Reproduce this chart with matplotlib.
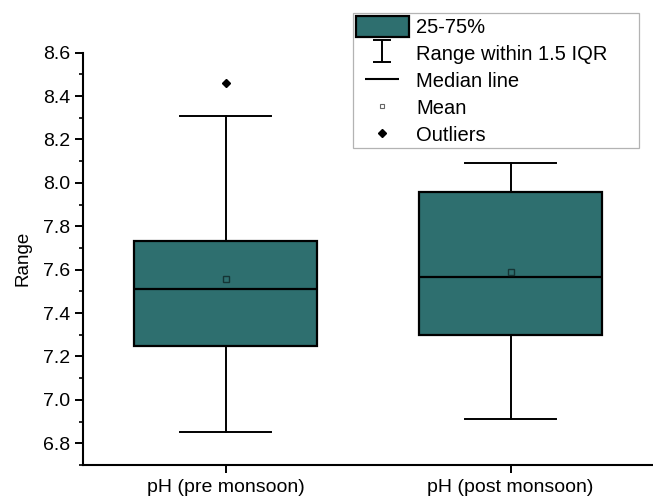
import matplotlib
matplotlib.use("Agg")
import matplotlib.pyplot as plt
from matplotlib.lines import Line2D
from matplotlib.patches import Patch
from matplotlib.path import Path
from matplotlib.ticker import MultipleLocator, FormatStrFormatter

plt.rcParams['font.family'] = ['Liberation Sans', 'DejaVu Sans']

# box statistics
groups = ['pH (pre monsoon)', 'pH (post monsoon)']
q1 = [7.25, 7.30]
medians = [7.51, 7.565]
q3 = [7.73, 7.96]
whis_low = [6.85, 6.91]
whis_high = [8.31, 8.09]
means = [7.555, 7.59]
outliers = [[8.46], []]

legend_labels = ['25-75%', 'Range within 1.5 IQR', 'Median line', 'Mean', 'Outliers']

teal = '#2e6f6f'

stats = []
for i, g in enumerate(groups):
    stats.append(dict(label=g, q1=q1[i], med=medians[i], q3=q3[i],
                      whislo=whis_low[i], whishi=whis_high[i],
                      mean=means[i], fliers=outliers[i]))

fig = plt.figure(figsize=(6.53, 4.97), dpi=100)
ax = fig.add_axes([83.3 / 653, 1 - 465 / 497, 1 - 83.3 / 653, (465 - 52.7) / 497])

ax.bxp(stats, positions=[1, 2], widths=0.643, capwidths=0.32,
       showmeans=True, patch_artist=True,
       boxprops=dict(facecolor=teal, edgecolor='black', linewidth=1.6),
       medianprops=dict(color='black', linewidth=1.6),
       whiskerprops=dict(color='black', linewidth=1.4),
       capprops=dict(color='black', linewidth=1.4),
       meanprops=dict(marker='s', markersize=4, markerfacecolor='none',
                      markeredgecolor='#153535', markeredgewidth=1.0),
       flierprops=dict(marker='D', markersize=4.5, markerfacecolor='black',
                       markeredgecolor='black'))

ax.set_xlim(0.5, 2.5)
ax.set_ylim(6.7, 8.6)
ax.yaxis.set_major_locator(MultipleLocator(0.2))
ax.yaxis.set_minor_locator(MultipleLocator(0.1))
ax.yaxis.set_major_formatter(FormatStrFormatter('%.1f'))
ax.set_xticks([1, 2])
ax.set_xticklabels(groups)

for s in ['top', 'right']:
    ax.spines[s].set_visible(False)
for s in ['left', 'bottom']:
    ax.spines[s].set_linewidth(1.5)

ax.tick_params(axis='y', which='major', direction='out', length=6,
               width=1.4, labelsize=14, pad=3.6)
ax.tick_params(axis='x', which='major', direction='out', length=5.5,
               width=1.4, labelsize=14, pad=4.5)
ax.tick_params(axis='y', which='minor', direction='out', length=3, width=1.2)
ax.set_ylabel('Range', fontsize=13.5, labelpad=8)

# legend handles
ibar = Path([(-0.41, 0.5), (0.41, 0.5), (0, 0.5), (0, -0.5), (-0.41, -0.5), (0.41, -0.5)],
            [Path.MOVETO, Path.LINETO, Path.MOVETO, Path.LINETO,
             Path.MOVETO, Path.LINETO])
hbar = Path([(-0.5, 0), (0.5, 0)], [Path.MOVETO, Path.LINETO])
handles = [
    Patch(facecolor=teal, edgecolor='black', linewidth=1.6),
    Line2D([], [], color='none', marker=ibar, markersize=16.5,
           markeredgecolor='black', markeredgewidth=1.4),
    Line2D([], [], color='none', marker=hbar, markersize=24,
           markeredgecolor='black', markeredgewidth=1.5),
    Line2D([], [], color='none', marker='s', markersize=3.5,
           markerfacecolor='white', markeredgecolor='#666666', markeredgewidth=0.8),
    Line2D([], [], color='none', marker='D', markersize=4,
           markerfacecolor='black', markeredgecolor='black'),
]
x0, x1, y0, y1 = 352.7, 639, 12.7, 146.7
leg = fig.legend(handles, legend_labels, loc='upper left', mode='expand',
                 bbox_to_anchor=(x0 / 653, 1 - y1 / 497, (x1 - x0) / 653, (y1 - y0) / 497),
                 fontsize=14.5, frameon=True, fancybox=False,
                 edgecolor='#a0a0a0', borderpad=0.15, labelspacing=0.28,
                 handlelength=2.64, handleheight=1.25, handletextpad=0.35,
                 borderaxespad=0)
leg.get_frame().set_linewidth(0.9)

fig.savefig('out.png', dpi=100)
